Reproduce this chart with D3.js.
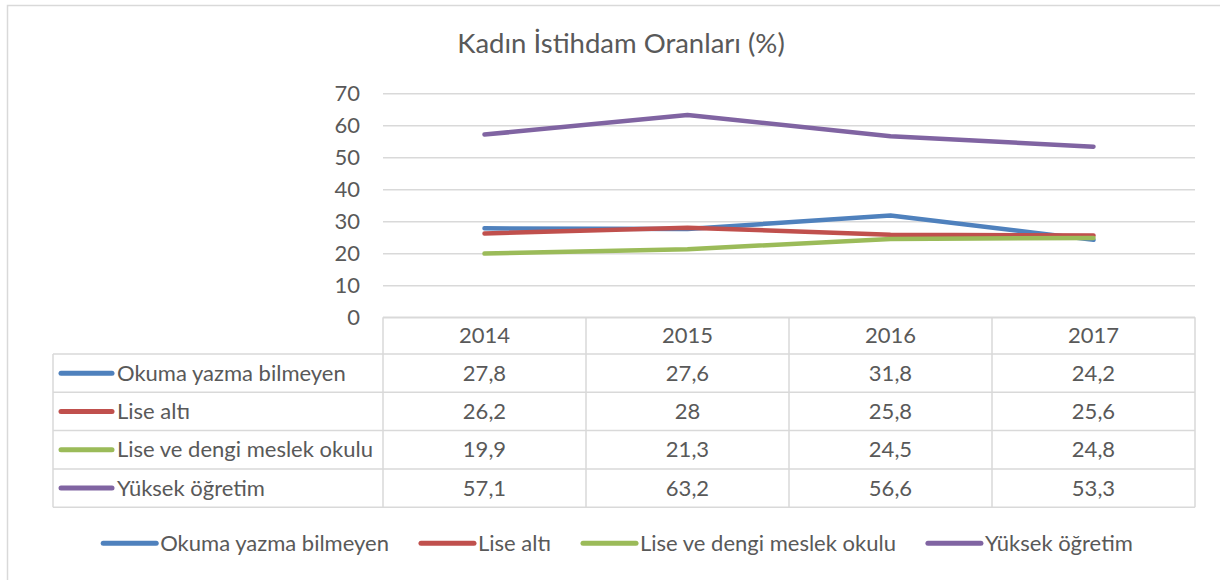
<!DOCTYPE html>
<html><head><meta charset="utf-8">
<script src="https://cdn.jsdelivr.net/npm/d3@7"></script>
<style>
html,body{margin:0;padding:0;background:#fff;}
svg{display:block;}
text{font-family:Lato, "Open Sans", sans-serif; fill:#595959;}
</style></head>
<body>
<svg id="chart" width="1220" height="580"></svg>
<script>
const title = "Kadın İstihdam Oranları (%)";
const years = ["2014", "2015", "2016", "2017"];
const seriesNames = ["Okuma yazma bilmeyen", "Lise altı", "Lise ve dengi meslek okulu", "Yüksek öğretim"];
const okumaYazmaBilmeyen = [27.8, 27.6, 31.8, 24.2];
const liseAlti = [26.2, 28, 25.8, 25.6];
const liseVeDengi = [19.9, 21.3, 24.5, 24.8];
const yuksekOgretim = [57.1, 63.2, 56.6, 53.3];
const yTicks = [0, 10, 20, 30, 40, 50, 60, 70];
const colors = ["#4F81BD", "#C0504D", "#9BBB59", "#8064A2"];

const seriesValues = [okumaYazmaBilmeyen, liseAlti, liseVeDengi, yuksekOgretim];
const fmt = v => String(v).replace(".", ",");

const svg = d3.select("#chart");
const grid = "#D9D9D9";
const fs = "22px";

// outer border
svg.append("rect").attr("x", 7.5).attr("y", 5.5).attr("width", 1240).attr("height", 600)
  .attr("fill", "none").attr("stroke", grid).attr("stroke-width", 1.5);

// title
svg.append("text").attr("x", 621).attr("y", 53).attr("text-anchor", "middle")
  .style("font-size", "27.5px").text(title);

const plotL = 383, plotR = 1195, plotT = 93.3, plotB = 317.3;
const x = d3.scaleBand().domain(years).range([plotL, plotR]).padding(0);
const y = d3.scaleLinear().domain([0, 70]).range([plotB, plotT]);
const cx = d => x(d) + x.bandwidth() / 2;

// gridlines & y labels
const yAxis = d3.axisLeft(y).tickValues(yTicks).tickSize(-(plotR - plotL)).tickPadding(23).tickFormat(d3.format("d"));
const ga = svg.append("g").attr("transform", `translate(${plotL},0)`).call(yAxis);
ga.select(".domain").remove();
ga.selectAll(".tick line").attr("stroke", grid).attr("stroke-width", 1.5);
ga.selectAll(".tick text").attr("fill", "#595959").style("font-size", fs).style("font-family", "Lato, sans-serif");

// data table
const tblL = 53, hdrT = plotB, hdrB = 354, rowH = 38.3;
const rowY = i => hdrB + i * rowH;
const tbl = svg.append("g");
const lineStyle = s => s.attr("stroke", grid).attr("stroke-width", 1.5);
tbl.append("line").attr("x1", plotL).attr("x2", plotR).attr("y1", hdrT).attr("y2", hdrT).call(lineStyle);
d3.range(seriesNames.length + 1).forEach(i => {
  tbl.append("line").attr("x1", tblL).attr("x2", plotR).attr("y1", rowY(i)).attr("y2", rowY(i)).call(lineStyle);
});
tbl.append("line").attr("x1", tblL).attr("x2", tblL).attr("y1", hdrB).attr("y2", rowY(seriesNames.length)).call(lineStyle);
years.concat(["end"]).forEach((yr, i) => {
  const xx = i < years.length ? x(yr) : plotR;
  tbl.append("line").attr("x1", xx).attr("x2", xx).attr("y1", hdrT).attr("y2", rowY(seriesNames.length)).call(lineStyle);
});
years.forEach(yr => {
  tbl.append("text").attr("x", cx(yr)).attr("y", (hdrT + hdrB) / 2).attr("dy", "0.35em")
    .attr("text-anchor", "middle").style("font-size", fs).text(yr);
});
seriesNames.forEach((name, i) => {
  const cy = rowY(i) + rowH / 2;
  tbl.append("line").attr("x1", 61).attr("x2", 112).attr("y1", cy).attr("y2", cy)
    .attr("stroke", colors[i]).attr("stroke-width", 5).attr("stroke-linecap", "round");
  tbl.append("text").attr("x", 117).attr("y", cy).attr("dy", "0.35em").style("font-size", fs).text(name);
  years.forEach((yr, j) => {
    tbl.append("text").attr("x", cx(yr)).attr("y", cy).attr("dy", "0.35em")
      .attr("text-anchor", "middle").style("font-size", fs).text(fmt(seriesValues[i][j]));
  });
});

// lines
const line = d3.line().x((d, j) => cx(years[j])).y(d => y(d));
seriesValues.forEach((vals, i) => {
  svg.append("path").datum(vals).attr("d", line).attr("fill", "none")
    .attr("stroke", colors[i]).attr("stroke-width", 4.5).attr("stroke-linejoin", "round").attr("stroke-linecap", "round");
});

// legend
const legY = 543.3;
const leg = svg.append("g");
let lx = 0;
const gap = 30;
seriesNames.forEach((name, i) => {
  const g = leg.append("g").attr("transform", `translate(${lx},0)`);
  g.append("line").attr("x1", 2).attr("x2", 55).attr("y1", legY).attr("y2", legY)
    .attr("stroke", colors[i]).attr("stroke-width", 5).attr("stroke-linecap", "round");
  const t = g.append("text").attr("x", 59).attr("y", legY).attr("dy", "0.35em").style("font-size", fs).text(name);
  const w = t.node().getComputedTextLength();
  lx += 59 + w + gap;
});
const totalW = lx - gap;
leg.attr("transform", `translate(${(98 + 1140) / 2 - totalW / 2 - 2},0)`);
</script>
</body></html>
